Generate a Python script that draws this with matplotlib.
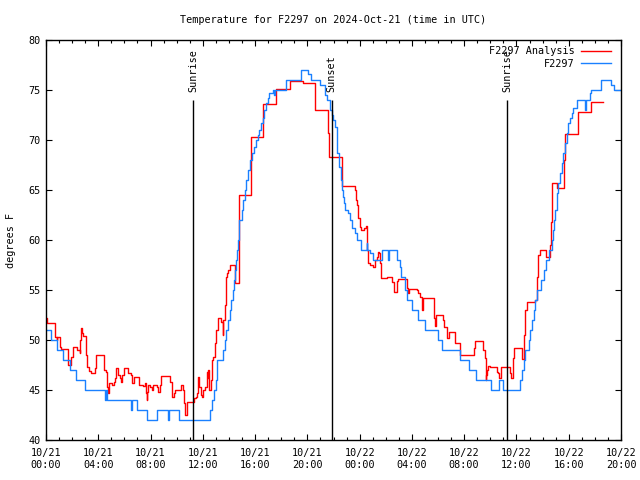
import numpy as np
import pandas as pd
import matplotlib
matplotlib.use("Agg")
import matplotlib.pyplot as plt
import matplotlib.dates as mdates

start = pd.Timestamp("2024-10-21 00:00")

# Observed station temperature (hours since 10/21 00:00 UTC, deg F)
obs_hours = [0.0, 0.4, 0.82, 1.3, 1.8, 2.32, 2.98, 4.51, 4.58, 4.64, 6.53, 6.6, 6.98,
             7.7, 8.5, 9.3, 9.42, 10.17, 12.55, 12.7, 12.85, 13.0, 13.08, 13.12, 13.55,
             13.68, 13.8, 13.92, 14.05, 14.17, 14.28, 14.38, 14.48, 14.55, 14.62, 14.67,
             14.74, 14.8, 15.0, 15.1, 15.2, 15.3, 15.45, 15.6, 15.8, 15.94, 16.07, 16.2,
             16.32, 16.45, 16.58, 16.7, 16.83, 16.96, 17.08, 17.35, 17.47, 17.52, 18.36,
             19.49, 20.07, 20.3, 20.96, 21.35, 21.48, 21.7, 21.86, 21.98, 22.1, 22.24,
             22.3, 22.44, 22.57, 22.62, 22.7, 22.8, 22.88, 23.13, 23.26, 23.39, 23.64,
             23.77, 24.1, 24.53, 24.6, 24.8, 25.04, 25.68, 26.19, 26.25, 26.83, 27.08,
             27.2, 27.47, 27.64, 27.98, 28.5, 29.0, 30.0, 30.27, 31.7, 32.4, 32.9, 34.05,
             34.7, 34.99, 36.3, 36.43, 36.55, 36.68, 36.93, 37.06, 37.19, 37.32, 37.45,
             37.57, 37.87, 38.08, 38.28, 38.48, 38.69, 38.79, 38.87, 38.97, 39.07, 39.2,
             39.33, 39.45, 39.58, 39.7, 39.84, 39.96, 40.1, 40.22, 40.35, 40.6, 41.24,
             41.3, 41.6, 41.74, 42.5, 43.27, 43.45, 44.0]
obs_temps = [51, 50, 49, 48, 47, 46, 45, 44, 45, 44, 43, 44, 43,
             42, 43, 42, 43, 42, 43, 44, 45, 46, 47, 48, 49,
             50, 51, 52, 53, 54, 55, 56, 57, 58, 59, 60,
             61, 62, 63, 64, 65, 66, 67, 68, 68.7, 69.3, 70, 70.5,
             71, 71.7, 72.2, 73, 73.7, 74.2, 74.7, 75, 74.5, 75, 76,
             77, 76.6, 76, 75.5, 74.5, 74, 73, 72.5, 72, 71.3, 70,
             68.7, 67.3, 66, 65, 64.3, 63.7, 63, 62.7, 62, 61.2, 60.7,
             60, 59, 59.7, 59, 58.7, 58, 59, 58, 59, 58, 57.3,
             56.3, 55, 54, 53, 52, 51, 50, 49, 48, 47, 46, 45,
             46, 45, 46, 47, 48, 49, 50, 51, 52, 53, 54,
             55, 56, 57, 58, 59, 60, 61, 62, 63, 64.7, 65.7,
             66.7, 67.7, 68.7, 69.7, 70.7, 71.7, 72.2, 72.7, 73.2, 74, 73,
             74, 74.7, 75, 76, 75.5, 75, 75]

# Analysis temperature
ana_hours = [0.0, 0.05, 0.7, 0.82, 0.87, 1.06, 1.17, 1.66, 1.94, 2.07, 2.4, 2.58, 2.6,
             2.65, 2.73, 2.83, 3.08, 3.16, 3.29, 3.42, 3.72, 3.85, 4.47, 4.62, 4.69,
             4.77, 4.82, 5.02, 5.2, 5.28, 5.33, 5.5, 5.64, 5.71, 5.84, 5.97, 6.3, 6.48,
             6.56, 6.76, 7.1, 7.45, 7.57, 7.65, 7.7, 7.75, 7.83, 7.96, 8.08, 8.21, 8.5,
             8.59, 8.72, 8.8, 9.5, 9.62, 9.66, 9.79, 9.87, 10.3, 10.51, 10.58, 10.66,
             10.76, 11.3, 11.48, 11.53, 11.66, 11.73, 11.83, 11.91, 12.04, 12.17, 12.29,
             12.37, 12.42, 12.5, 12.6, 12.68, 12.8, 12.93, 13.0, 13.19, 13.42, 13.52,
             13.57, 13.7, 13.77, 13.88, 13.96, 14.08, 14.5, 14.75, 15.65, 16.6, 17.62,
             18.65, 19.65, 20.62, 21.6, 21.66, 22.66, 23.62, 23.72, 23.77, 23.85, 23.9,
             24.02, 24.07, 24.3, 24.48, 24.6, 24.66, 24.8, 25.05, 25.2, 25.3, 25.38,
             25.5, 25.55, 25.63, 26.07, 26.5, 26.63, 26.8, 26.88, 26.96, 27.6, 27.72,
             27.8, 28.4, 28.5, 28.62, 28.75, 28.87, 29.69, 29.75, 29.82, 29.86, 30.35,
             30.45, 30.7, 30.8, 31.29, 31.68, 32.75, 32.82, 33.46, 33.59, 33.64, 33.68,
             33.76, 33.84, 33.97, 34.5, 34.6, 34.67, 34.79, 35.5, 35.58, 35.7, 35.75,
             35.83, 36.45, 36.55, 36.67, 36.78, 37.45, 37.59, 37.67, 37.8, 38.26, 38.56,
             38.61, 38.69, 39.07, 39.66, 39.71, 40.68, 41.67, 42.6]
ana_temps = [52.2, 51.7, 50.3, 50.0, 50.3, 49.3, 49.1, 47.5, 48.3, 49.3, 49.0, 48.7, 50.0,
             51.2, 50.7, 50.4, 48.5, 47.3, 46.9, 46.7, 47.2, 48.5, 47.0, 46.8, 45.3,
             44.7, 45.7, 45.5, 45.8, 46.2, 47.2, 46.5, 46.2, 45.8, 46.5, 47.2, 46.7, 46.5,
             45.7, 46.3, 45.5, 45.4, 45.7, 44.7, 44.0, 44.8, 45.5, 45.3, 45.0, 45.5, 45.3,
             44.8, 45.5, 46.4, 45.8, 45.0, 44.3, 44.7, 45.0, 45.5, 45.0, 43.7, 42.5,
             43.8, 44.2, 44.3, 44.7, 46.3, 45.3, 44.5, 44.3, 45.0, 45.3, 46.8,
             46.2, 47.0, 45.0, 46.0, 48.0, 48.3, 49.7, 51.0, 52.2, 51.8, 50.5,
             52.0, 53.5, 56.3, 56.7, 57.0, 57.5, 55.7, 64.5, 70.3, 73.6, 75.1,
             75.9, 75.7, 73.0, 70.7, 68.3, 65.4, 65.0, 64.0, 63.5, 62.5, 62.2,
             61.3, 61.0, 61.2, 61.4, 59.0, 57.7, 57.5, 57.3, 58.0, 58.3, 58.8,
             58.7, 57.7, 56.2, 56.3, 55.8, 54.8, 54.8, 55.9, 56.1, 55.2, 54.7,
             55.1, 55.0, 54.7, 54.3, 53.0, 54.2, 52.2, 51.4, 51.5, 52.5, 52.0,
             51.3, 50.2, 50.8, 49.7, 48.5, 49.2, 49.9, 49.0, 48.2, 46.0, 46.5,
             47.0, 47.4, 47.3, 46.8, 46.7, 46.2, 47.3, 46.7, 46.2, 47.3, 48.2,
             49.2, 48.1, 50.5, 53.0, 53.8, 54.0, 56.3, 58.5, 59.0, 58.3, 59.5,
             61.8, 65.7, 65.2, 68.0, 70.6, 72.8, 73.8, 73.8]

sun_hours = [11.27, 21.86, 35.3]
sun_labels = ["Sunrise", "Sunset", "Sunrise"]

def to_time(hours):
    return start + pd.to_timedelta(np.array(hours), unit="h")

mono = "DejaVu Sans Mono"
fs = 7.3

fig = plt.figure(figsize=(6.4, 4.8), dpi=100)
ax = fig.add_axes([46 / 640, 40 / 480, 575 / 640, 400 / 480])

ax.plot(to_time(ana_hours), ana_temps, drawstyle="steps-post", color="#ff0000",
        lw=1.0, label="F2297 Analysis")
ax.plot(to_time(obs_hours), obs_temps, drawstyle="steps-post", color="#1a80ff",
        lw=1.0, label="F2297")

for h, lab in zip(sun_hours, sun_labels):
    t = to_time([h])[0]
    ax.vlines(t, 40, 74, color="black", lw=1.0)
    ax.text(t, 74.8, lab, rotation=90, ha="center", va="bottom",
            family=mono, fontsize=fs)

ax.set_xlim(start, start + pd.Timedelta(hours=44))
ax.set_ylim(40, 80)
ax.set_yticks(range(40, 81, 5))

ax.xaxis.set_major_locator(mdates.HourLocator(byhour=range(0, 24, 4)))
ax.xaxis.set_minor_locator(mdates.HourLocator())
ax.xaxis.set_major_formatter(mdates.DateFormatter("%m/%d\n%H:%M"))

ax.tick_params(axis="both", which="both", direction="in", top=True, right=True,
               labelsize=fs, width=0.8)
ax.tick_params(axis="both", which="major", length=4.5, pad=4)
ax.tick_params(axis="x", which="major", pad=6)
ax.tick_params(axis="x", which="minor", length=2.5)
for lab in ax.get_xticklabels() + ax.get_yticklabels():
    lab.set_family(mono)
for s in ax.spines.values():
    s.set_linewidth(1.0)

leg = ax.legend(loc="upper right", bbox_to_anchor=(1.0, 1.01), frameon=False,
                markerfirst=False, prop={"family": mono, "size": fs},
                handlelength=2.9, handletextpad=0.7, labelspacing=0.25,
                borderaxespad=0.6)

fig.text(333 / 640, 1 - 20 / 480, "Temperature for F2297 on 2024-Oct-21 (time in UTC)",
         ha="center", va="center", family=mono, fontsize=fs)
fig.text(11 / 640, 0.5, "degrees F", rotation=90, ha="center", va="center",
         family=mono, fontsize=fs)

fig.savefig("out.png", dpi=100)
